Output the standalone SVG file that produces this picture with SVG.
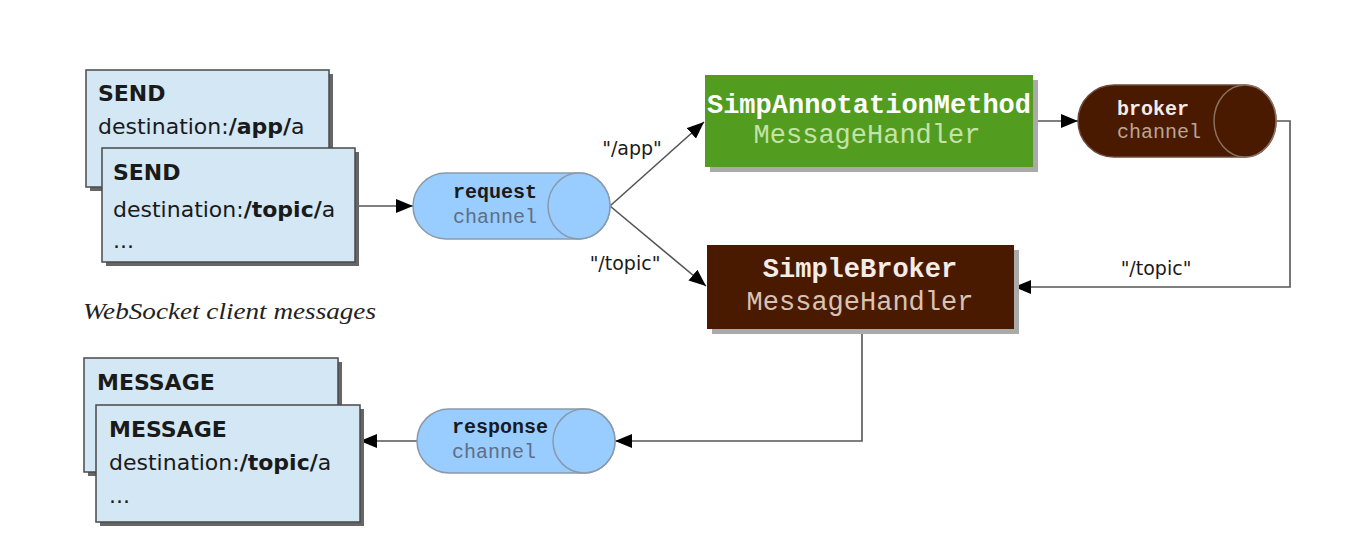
<svg xmlns="http://www.w3.org/2000/svg" width="1352" height="560" viewBox="0 0 1352 560">
<style>
.msg{fill:#d3e7f5;stroke:#4a4a4a;stroke-width:1.5}
.shd{fill:#666}
.shl{fill:#aaa}
.ct{font-family:"DejaVu Sans",sans-serif;font-size:22px;fill:#1a1a1a}
.b{font-weight:bold}
.cyl{fill:#99ccff;stroke:#8a9aab;stroke-width:1.5}
.cylb{fill:#4a1a00;stroke:#6a4a3a;stroke-width:1.5}
.mono{font-family:"Liberation Mono","Courier New",monospace}
.ct1{font-size:20px;font-weight:bold;fill:#1a1a1a}
.ct2{font-size:20px;fill:#5d6f85}
.big{font-size:27px}
.conn{fill:none;stroke:#555;stroke-width:1.6}
.lbl{font-family:"DejaVu Sans",sans-serif;font-size:19px;fill:#1a1a1a}
</style>
<defs>
<marker id="ah" markerUnits="userSpaceOnUse" markerWidth="18" markerHeight="14" refX="17" refY="7" orient="auto">
<path d="M0,0 L17,7 L0,14 z" fill="#000"/>
</marker>
</defs>

<g id="connectors">
<line class="conn" x1="355" y1="206" x2="413" y2="206" marker-end="url(#ah)"/>
<line class="conn" x1="610" y1="206" x2="704" y2="122" marker-end="url(#ah)"/>
<line class="conn" x1="610" y1="206" x2="706" y2="286" marker-end="url(#ah)"/>
<line class="conn" x1="1033" y1="121" x2="1078" y2="121" marker-end="url(#ah)"/>
<polyline class="conn" points="1276,121 1290,121 1290,287 1014,287" marker-end="url(#ah)"/>
<polyline class="conn" points="862,329 862,441 615,441" marker-end="url(#ah)"/>
<line class="conn" x1="417" y1="441" x2="360" y2="441" marker-end="url(#ah)"/>
<text class="lbl" x="632" y="155" text-anchor="middle">"/app"</text>
<text class="lbl" x="625" y="270" text-anchor="middle">"/topic"</text>
<text class="lbl" x="1156" y="275" text-anchor="middle" font-size="20">"/topic"</text>
</g>

<g id="send-app">
<rect class="shd" x="90" y="74" width="243" height="117"/>
<rect class="msg" x="86" y="70" width="243" height="117"/>
<text class="ct b" x="98" y="101">SEND</text>
<text class="ct" x="98" y="134">destination:<tspan class="b">/app/</tspan>a</text>
</g>

<g id="send-topic">
<rect class="shd" x="106" y="152" width="253" height="114"/>
<rect class="msg" x="102" y="148" width="253" height="114"/>
<text class="ct b" x="113" y="180">SEND</text>
<text class="ct" x="113" y="217">destination:<tspan class="b">/topic/</tspan>a</text>
<text class="ct" x="113" y="248">...</text>
</g>

<text id="caption" x="83" y="319" font-family="'Liberation Serif',serif" font-style="italic" font-size="23" fill="#222" textLength="293" lengthAdjust="spacingAndGlyphs">WebSocket client messages</text>

<g id="message-back">
<rect class="shd" x="88" y="362" width="254" height="114"/>
<rect class="msg" x="84" y="358" width="254" height="114"/>
<text class="ct b" x="97" y="390">MESSAGE</text>
</g>

<g id="message-front">
<rect class="shd" x="100" y="409" width="264" height="117"/>
<rect class="msg" x="96" y="405" width="264" height="117"/>
<text class="ct b" x="109" y="437">MESSAGE</text>
<text class="ct" x="109" y="470">destination:<tspan class="b">/topic/</tspan>a</text>
<text class="ct" x="109" y="503">...</text>
</g>

<g id="request-channel">
<path class="cyl" d="M579,173 H446 A33,33 0 0 0 446,239 H579 A31,33 0 0 0 579,173 Z"/>
<ellipse class="cyl" cx="579" cy="206" rx="31" ry="33"/>
<text class="mono ct1" x="453" y="198">request</text>
<text class="mono ct2" x="453" y="223">channel</text>
</g>

<g id="simp-annotation">
<rect class="shl" x="710" y="80" width="328" height="92"/>
<rect x="705" y="75" width="328" height="92" fill="#529c1f"/>
<text class="mono big" x="869" y="113" text-anchor="middle" font-weight="bold" fill="#fff">SimpAnnotationMethod</text>
<text class="mono big" x="867" y="143" text-anchor="middle" fill="#c5e3a8">MessageHandler</text>
</g>

<g id="broker-channel">
<path class="cylb" d="M1245,85 H1114 A36,36 0 0 0 1114,157 H1245 A31,36 0 0 0 1245,85 Z"/>
<ellipse cx="1245" cy="121" rx="31" ry="36" fill="#4a1a00" stroke="#8a7060" stroke-width="1.5"/>
<text class="mono ct1" x="1117" y="115" style="fill:#f4ece6">broker</text>
<text class="mono ct2" x="1117" y="138" style="fill:#bba595">channel</text>
</g>

<g id="simple-broker">
<rect class="shl" x="712" y="250" width="307" height="84"/>
<rect x="707" y="245" width="307" height="84" fill="#4a1a00"/>
<text class="mono big" x="860" y="277" text-anchor="middle" font-weight="bold" fill="#f4ece6">SimpleBroker</text>
<text class="mono big" x="860" y="310" text-anchor="middle" fill="#d9c3b5">MessageHandler</text>
</g>

<g id="response-channel">
<path class="cyl" d="M584,409 H449 A32,32 0 0 0 449,473 H584 A31,32 0 0 0 584,409 Z"/>
<ellipse class="cyl" cx="584" cy="441" rx="31" ry="32"/>
<text class="mono ct1" x="452" y="433">response</text>
<text class="mono ct2" x="452" y="458">channel</text>
</g>
</svg>
